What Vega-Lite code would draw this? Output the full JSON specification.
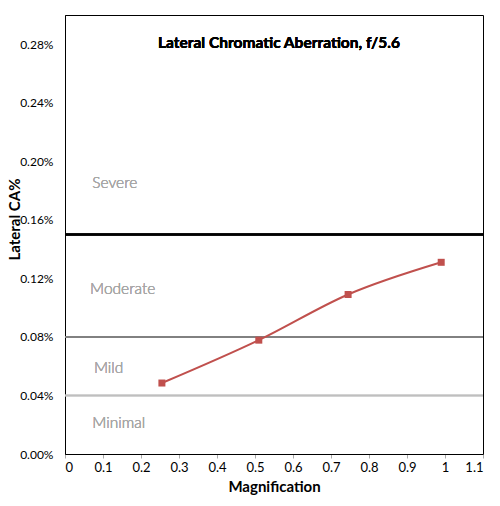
{
  "$schema": "https://vega.github.io/schema/vega-lite/v6.json",
  "width": 418,
  "height": 439,
  "autosize": {"type": "none"},
  "padding": {"left": 65, "top": 15, "right": 17, "bottom": 52},
  "background": "white",
  "config": {
    "font": "Lato",
    "view": {"stroke": "black", "strokeWidth": 1},
    "axis": {"grid": false, "domainColor": "black", "labelColor": "black", "titleColor": "black", "labelFont": "Lato", "titleFont": "Lato"}
  },
  "data": {
    "values": [
      {"magnification": 0.255, "ca": 0.0485},
      {"magnification": 0.51, "ca": 0.0778},
      {"magnification": 0.745, "ca": 0.109},
      {"magnification": 0.99, "ca": 0.131}
    ]
  },
  "encoding": {
    "x": {
      "field": "magnification",
      "type": "quantitative",
      "title": "Magnification",
      "scale": {"domain": [0, 1.1], "nice": false},
      "axis": {
        "values": [0, 0.1, 0.2, 0.3, 0.4, 0.5, 0.6, 0.7, 0.8, 0.9, 1, 1.1],
        "format": ".1~f",
        "labelFontSize": 13,
        "labelPadding": 3,
        "tickSize": 4,
        "tickColor": "#aaaaaa",
        "titleFontSize": 15,
        "titleFontWeight": "bold",
        "titlePadding": 5
      }
    },
    "y": {
      "field": "ca",
      "type": "quantitative",
      "title": "Lateral CA%",
      "scale": {"domain": [0, 0.3], "nice": false},
      "axis": {
        "values": [0, 0.04, 0.08, 0.12, 0.16, 0.2, 0.24, 0.28],
        "labelExpr": "format(datum.value, '.2f') + '%'",
        "labelFontSize": 12,
        "ticks": false,
        "labelPadding": 12,
        "titleFontSize": 15,
        "titleFontWeight": "bold",
        "titleX": -51,
        "titleY": 204,
        "titleAngle": 270,
        "titleAlign": "center",
        "titleBaseline": "middle"
      }
    }
  },
  "layer": [
    {"mark": {"type": "rule", "color": "#bfbfbf", "strokeWidth": 1.5}, "encoding": {"y": {"datum": 0.04}, "x": {"datum": 0}, "x2": {"datum": 1.1}}},
    {"mark": {"type": "rule", "color": "#808080", "strokeWidth": 1.5}, "encoding": {"y": {"datum": 0.08}, "x": {"datum": 0}, "x2": {"datum": 1.1}}},
    {"mark": {"type": "rule", "color": "black", "strokeWidth": 2}, "encoding": {"y": {"datum": 0.15}, "x": {"datum": 0}, "x2": {"datum": 1.1}}},
    {"mark": {"type": "text", "text": "Severe", "align": "left", "baseline": "middle", "fontSize": 15.5, "fontWeight": 300, "color": "#a6a6a6"}, "encoding": {"x": {"datum": 0.072}, "y": {"datum": 0.185}}},
    {"mark": {"type": "text", "text": "Moderate", "align": "left", "baseline": "middle", "fontSize": 15.5, "fontWeight": 300, "color": "#a6a6a6"}, "encoding": {"x": {"datum": 0.066}, "y": {"datum": 0.113}}},
    {"mark": {"type": "text", "text": "Mild", "align": "left", "baseline": "middle", "fontSize": 15.5, "fontWeight": 300, "color": "#a6a6a6"}, "encoding": {"x": {"datum": 0.076}, "y": {"datum": 0.059}}},
    {"mark": {"type": "text", "text": "Minimal", "align": "left", "baseline": "middle", "fontSize": 15.5, "fontWeight": 300, "color": "#a6a6a6"}, "encoding": {"x": {"datum": 0.072}, "y": {"datum": 0.021}}},
    {"mark": {"type": "text", "text": "Lateral Chromatic Aberration, f/5.6", "align": "center", "baseline": "middle", "fontSize": 15.5, "fontWeight": "bold", "color": "black"}, "encoding": {"x": {"datum": 0.563}, "y": {"datum": 0.281}}},
    {"mark": {"type": "line", "color": "#c0504d", "strokeWidth": 2, "interpolate": "monotone"}},
    {"mark": {"type": "square", "color": "#c0504d", "opacity": 1, "size": 49}}
  ]
}
